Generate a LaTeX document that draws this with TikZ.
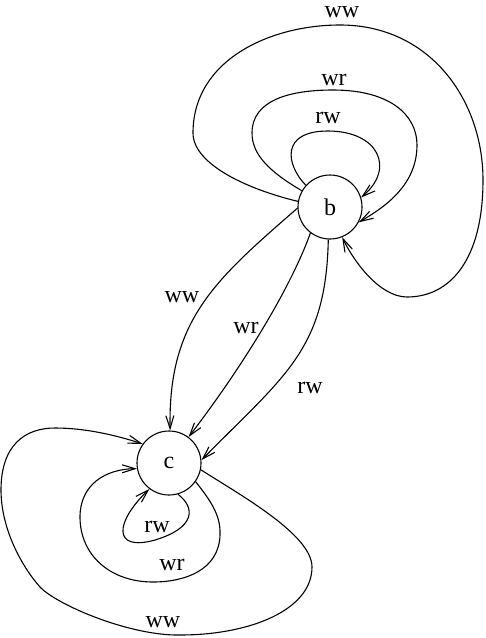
\documentclass[tikz,border=0pt]{standalone}
\usepackage{fontspec}
\setmainfont{Liberation Serif}
\usetikzlibrary{arrows.meta}
\tikzset{
  state/.style={draw, circle, minimum size=64pt, inner sep=0pt, line width=1.1pt, font=\fontsize{24}{28}\selectfont},
  lbl/.style={inner sep=0pt, font=\fontsize{24}{28}\selectfont},
  edge/.style={line width=1.1pt, -{Straight Barb[length=13pt,width=8pt]}}
}
\begin{document}
\begin{tikzpicture}[x=1pt, y=-1pt]
\useasboundingbox (0,0) rectangle (486,638);
\node[state] (b) at (330,207) {b};
\node[state] (c) at (169,463) {c};
% loops on b
\draw[edge] (b.138) .. controls (286,165) and (280,131) .. (328,131)
  .. controls (378,131) and (396,168) .. (b.17);
\draw[edge] (b.150) .. controls (270,172) and (252,155) .. (252,133)
  .. controls (252,100) and (290,90) .. (333,90)
  .. controls (390,90) and (417,115) .. (417,145)
  .. controls (417,185) and (385,207) .. (b.-28);
\draw[edge] (b.170) .. controls (250,190) and (193,165) .. (193,133)
  .. controls (193,60) and (270,25) .. (340,25)
  .. controls (430,25) and (483,100) .. (483,180)
  .. controls (483,260) and (450,297) .. (407,297)
  .. controls (380,297) and (354,262) .. (b.-68);
\node[lbl] (lbww) at (342,12) {ww};
\node[lbl] (lbwr) at (334,80) {wr};
\node[lbl] (lbrw) at (328,118) {rw};
% b to c
\draw[edge] (b.182) .. controls (215,280) and (168,320) .. (c.88);
\draw[edge] (b.233) .. controls (290,290) and (240,370) .. (c.53);
\draw[edge] (b.267) .. controls (326,350) and (285,375) .. (c.5);
\node[lbl] (lbcww) at (182,297) {ww};
\node[lbl] (lbcwr) at (246,328) {wr};
\node[lbl] (lbcrw) at (310,388) {rw};
% loops on c
\draw[edge] (c.-12) .. controls (242,496) and (312,535) .. (312,567)
  .. controls (312,610) and (250,635) .. (180,635)
  .. controls (130,636) and (57,605) .. (40,587)
  .. controls (23,568) and (1,530) .. (1,490)
  .. controls (1,445) and (25,428) .. (55,428)
  .. controls (85,428) and (115,435) .. (c.144);
\draw[edge] (c.-35) .. controls (210,500) and (221,515) .. (220,535)
  .. controls (219,570) and (185,582) .. (153,582)
  .. controls (110,582) and (80,555) .. (80,517)
  .. controls (80,485) and (105,469) .. (c.190);
\draw[edge] (c.-74) .. controls (196,508) and (195,528) .. (155,540)
  .. controls (112,552) and (115,522) .. (c.233);
\node[lbl] (lcww) at (163,622) {ww};
\node[lbl] (lcwr) at (172,565) {wr};
\node[lbl] (lcrw) at (157,527) {rw};
\end{tikzpicture}
\end{document}
